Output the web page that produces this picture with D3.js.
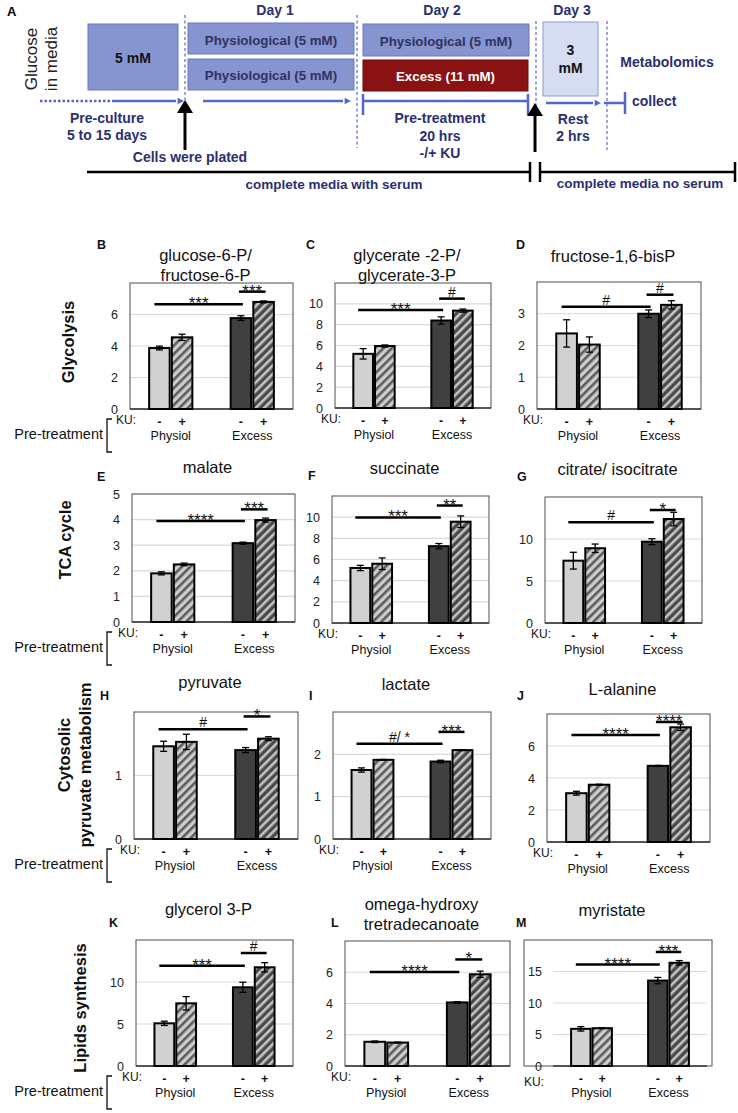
<!DOCTYPE html>
<html><head><meta charset="utf-8">
<script src="https://cdn.jsdelivr.net/npm/d3@7"></script>
<style>
body{margin:0;background:#fff}
svg{display:block}
text{font-family:"Liberation Sans",Arial,Helvetica,sans-serif}
</style>
</head><body>
<svg id="fig" width="738" height="1113"></svg>
<script>
// ---------------- DATA ----------------
const panelIds = ["B","C","D","E","F","G","H","I","J","K","L","M"];
const panelTitles = [["glucose-6-P/","fructose-6-P"],["glycerate -2-P/","glycerate-3-P"],["fructose-1,6-bisP"],
  ["malate"],["succinate"],["citrate/ isocitrate"],["pyruvate"],["lactate"],["L-alanine"],
  ["glycerol 3-P"],["omega-hydroxy","tretradecanoate"],["myristate"]];
const groups = ["Physiol","Excess"];
const kuLevels = ["-","+"];
const physiolMinus = [3.87,5.2,2.38,1.9,5.2,7.42,1.46,1.63,3.05,5.08,1.55,5.9];
const physiolPlus  = [4.55,5.95,2.03,2.25,5.6,8.9,1.53,1.87,3.58,7.46,1.5,6.0];
const excessMinus  = [5.77,8.4,3.0,3.08,7.26,9.68,1.4,1.83,4.76,9.37,4.07,13.56];
const excessPlus   = [6.8,9.35,3.28,3.98,9.57,12.38,1.58,2.1,7.17,11.75,5.87,16.38];
const errPhysiolMinus = [0.12,0.5,0.43,0.06,0.25,1.0,0.08,0.05,0.12,0.25,0.05,0.35];
const errPhysiolPlus  = [0.2,0.1,0.24,0.05,0.55,0.5,0.12,0.01,0.03,0.8,0.03,0.05];
const errExcessMinus  = [0.15,0.35,0.12,0.04,0.25,0.35,0.04,0.03,0.03,0.6,0.05,0.5];
const errExcessPlus   = [0.06,0.15,0.13,0.08,0.55,0.8,0.03,0.01,0.2,0.55,0.2,0.35];
const yMax = [8,12,4,5,12,15,2,3,8,15,8,20];
const yTicks = [[0,2,4,6],[0,2,4,6,8,10],[0,1,2,3],[0,1,2,3,4,5],[0,2,4,6,8,10],[0,5,10],
  [0,1],[0,1,2],[0,2,4,6],[0,5,10],[0,2,4,6],[0,5,10,15]];
const sigLongLabel = ["***","***","#","****","***","#","#","#/ *","****","***","****","****"];
const sigLongY = [6.65,9.4,3.22,3.95,9.97,12.0,1.73,2.25,6.68,11.94,6.02,16.1];
const sigShortLabel = ["***","#","#","***","**","*","*","***","****","#","*","***"];
const sigShortY = [7.45,10.5,3.6,4.4,11.1,13.45,1.93,2.53,7.5,13.45,6.82,18.1];
const rowLabels = [["Glycolysis"],["TCA cycle"],["Cytosolic","pyruvate metabolism"],["Lipids synthesis"]];

// ---------------- LAYOUT ----------------
const plotBox = [[130,293,283,409],[335,491,283,408],[537,701,282,409],
  [132,295,494,622],[332,489,496,623],[545,702,497,623],
  [134,298,712,839],[333,491,712,839],[547,710,714,842],
  [136,293,940,1066],[345,510,941,1066],[553,707,940,1066]];
const frameLeft = [null,null,null,null,null,null,null,null,null,null,null,524];
const frameRight = [null,null,null,null,null,null,null,null,null,null,null,712];
const titleY = [261,261,262,473,474,475,688,690,695,915,910,916];
const letterPos = [[97,249],[306,249],[516,249],[97,481],[308,480],[517,481],[100,700],[309,700],[517,700],[109,927],[331,927],[516,927]];

const NAVY = "#2b2f6e";
const svg = d3.select("#fig");
const defs = svg.append("defs");

function hatch(id, base, stripe){
  const p = defs.append("pattern").attr("id",id).attr("patternUnits","userSpaceOnUse")
    .attr("width",6).attr("height",6).attr("patternTransform","rotate(45)");
  p.append("rect").attr("width",6).attr("height",6).attr("fill",base);
  p.append("rect").attr("width",2.6).attr("height",6).attr("fill",stripe);
}
hatch("hatchLight","#cdcdcd","#5c5c5c");
hatch("hatchDark","#4a4a4a","#c4c4c4");
const barFills = [["#d1d1d1","url(#hatchLight)"],["#404040","url(#hatchDark)"]];

// ---------------- PANEL A ----------------
function arrowHead(g, x, y, color, size){
  g.append("path").attr("d",`M${x},${y} L${x-size*1.6},${y-size*0.8} L${x-size*1.6},${y+size*0.8} Z`).attr("fill",color);
}
const A = svg.append("g");
A.append("text").attr("x",7).attr("y",16).attr("font-size",13).attr("font-weight","bold").text("A");
[["Glucose",37],["in media",57]].forEach(([t,x])=>{
  A.append("text").attr("transform",`translate(${x},59) rotate(-90)`).attr("text-anchor","middle")
   .attr("font-size",17).attr("fill","#222").text(t);
});
[[185,15,100],[357,15,148],[536,21,106],[607,21,150]].forEach(([x,y1,y2])=>{
  A.append("line").attr("x1",x).attr("x2",x).attr("y1",y1).attr("y2",y2)
   .attr("stroke","#6675c8").attr("stroke-width",1.3).attr("stroke-dasharray","3,2.5");
});
const boxFill="#8694d0", boxStroke="#6a79c2";
A.append("rect").attr("x",88).attr("y",24).attr("width",90).attr("height",66).attr("fill",boxFill).attr("stroke",boxStroke);
A.append("text").attr("x",133).attr("y",63).attr("text-anchor","middle").attr("font-size",14).attr("font-weight","bold").attr("fill","#111").text("5 mM");
[["Day 1",275],["Day 2",442],["Day 3",572]].forEach(([t,x])=>{
  A.append("text").attr("x",x).attr("y",15).attr("text-anchor","middle").attr("font-size",14).attr("font-weight","bold").attr("fill",NAVY).text(t);
});
[[188,23,166,31,45],[188,59,166,31,80],[363,24,166,32,46]].forEach(([x,y,w,h,ty])=>{
  A.append("rect").attr("x",x).attr("y",y).attr("width",w).attr("height",h).attr("fill",boxFill).attr("stroke",boxStroke);
  A.append("text").attr("x",x+w/2).attr("y",ty).attr("text-anchor","middle").attr("font-size",13.3).attr("font-weight","bold").attr("fill","#30335e").text("Physiological (5 mM)");
});
A.append("rect").attr("x",363).attr("y",60).attr("width",165).attr("height",31).attr("fill","#8b1212").attr("stroke","#6a0d0d");
A.append("text").attr("x",445.5).attr("y",81).attr("text-anchor","middle").attr("font-size",13.3).attr("font-weight","bold").attr("fill","#fff").text("Excess (11 mM)");
A.append("rect").attr("x",543).attr("y",22).attr("width",55).attr("height",74).attr("fill","#d6dcf1").attr("stroke","#8d9bd4");
A.append("text").attr("x",570.5).attr("y",55).attr("text-anchor","middle").attr("font-size",14).attr("font-weight","bold").attr("fill","#111").text("3");
A.append("text").attr("x",570.5).attr("y",73).attr("text-anchor","middle").attr("font-size",14).attr("font-weight","bold").attr("fill","#111").text("mM");
A.append("text").attr("x",667).attr("y",67).attr("text-anchor","middle").attr("font-size",14).attr("font-weight","bold").attr("fill",NAVY).text("Metabolomics");
const BL = "#5567c6";
A.append("line").attr("x1",40).attr("x2",112).attr("y1",101).attr("y2",101).attr("stroke",BL).attr("stroke-width",2.5).attr("stroke-dasharray","2.5,2");
A.append("line").attr("x1",112).attr("x2",176).attr("y1",101).attr("y2",101).attr("stroke",BL).attr("stroke-width",2.5);
arrowHead(A,184,101,BL,4);
A.append("line").attr("x1",203).attr("x2",343).attr("y1",101).attr("y2",101).attr("stroke",BL).attr("stroke-width",2.5);
arrowHead(A,351,101,BL,4);
A.append("line").attr("x1",363).attr("x2",528).attr("y1",101).attr("y2",101).attr("stroke",BL).attr("stroke-width",2.5);
[363,528].forEach(x=>A.append("line").attr("x1",x).attr("x2",x).attr("y1",94).attr("y2",115).attr("stroke",BL).attr("stroke-width",2.5));
A.append("line").attr("x1",546).attr("x2",593).attr("y1",103).attr("y2",103).attr("stroke",BL).attr("stroke-width",2.5);
arrowHead(A,601,103,BL,4);
A.append("line").attr("x1",604).attr("x2",625).attr("y1",103).attr("y2",103).attr("stroke",BL).attr("stroke-width",2.5);
A.append("line").attr("x1",625).attr("x2",625).attr("y1",92).attr("y2",114).attr("stroke",BL).attr("stroke-width",2.5);
A.append("text").attr("x",632).attr("y",106).attr("font-size",14).attr("font-weight","bold").attr("fill",NAVY).text("collect");
[[185,100,150],[535,103,152]].forEach(([x,yt,yb])=>{
  A.append("line").attr("x1",x).attr("x2",x).attr("y1",yt+10).attr("y2",yb).attr("stroke","#000").attr("stroke-width",3);
  A.append("path").attr("d",`M${x},${yt} L${x-8},${yt+13} L${x+8},${yt+13} Z`).attr("fill","#000");
});
const txt = (t,x,y)=>A.append("text").attr("x",x).attr("y",y).attr("text-anchor","middle").attr("font-size",14).attr("font-weight","bold").attr("fill",NAVY).text(t);
txt("Pre-culture",107,123); txt("5 to 15 days",107,140);
txt("Cells were plated",190,162);
txt("Pre-treatment",440,123); txt("20 hrs",440,141); txt("-/+ KU",440,158);
txt("Rest",573,124); txt("2 hrs",573,141);
A.append("line").attr("x1",87).attr("x2",530).attr("y1",172).attr("y2",172).attr("stroke","#000").attr("stroke-width",2.5);
A.append("line").attr("x1",540).attr("x2",735).attr("y1",172).attr("y2",172).attr("stroke","#000").attr("stroke-width",2.5);
[530,540,735].forEach(x=>A.append("line").attr("x1",x).attr("x2",x).attr("y1",162).attr("y2",182).attr("stroke","#000").attr("stroke-width",2.5));
A.append("text").attr("x",334).attr("y",189).attr("text-anchor","middle").attr("font-size",13.5).attr("font-weight","bold").attr("fill",NAVY).text("complete media with serum");
A.append("text").attr("x",640).attr("y",188).attr("text-anchor","middle").attr("font-size",13.5).attr("font-weight","bold").attr("fill",NAVY).text("complete media no serum");

// ---------------- ROW LABELS ----------------
const rowPos = [[[74,342]],[[71,540]],[[70,755],[91,765]],[[86,1008]]];
rowLabels.forEach((lines,r)=>{
  lines.forEach((t,k)=>{
    const [x,y] = rowPos[r][k];
    svg.append("text").attr("transform",`translate(${x},${y}) rotate(-90)`).attr("text-anchor","middle")
      .attr("font-size",16.5).attr("font-weight","bold").attr("fill","#111").text(t);
  });
});

// ---------------- PANELS ----------------
panelIds.forEach((id,i)=>{
  const [l,r,t,b] = plotBox[i];
  const g = svg.append("g");
  const y = d3.scaleLinear().domain([0,yMax[i]]).range([b,t]);
  const x0 = d3.scaleBand().domain(groups).range([l,r]);
  const cw = x0.bandwidth(), bw = cw*0.24, gap = cw*0.05;
  const x1 = d3.scaleBand().domain(kuLevels).range([-(bw+gap/2), bw+gap/2]).paddingInner(gap/(2*bw+gap));
  const barX = (gi,k)=> x0(groups[gi]) + cw/2 + x1(kuLevels[k]);
  const barC = (gi,k)=> barX(gi,k) + x1.bandwidth()/2;
  const hasFrame = frameLeft[i]!==null;
  const fl = hasFrame ? frameLeft[i] : l;
  const fr = hasFrame ? frameRight[i] : r;

  g.selectAll(".grid").data(yTicks[i].filter(v=>v>0)).join("line")
    .attr("x1",l).attr("x2",r).attr("y1",d=>y(d)).attr("y2",d=>y(d))
    .attr("stroke","#d9d9d9").attr("stroke-width",1.2);
  g.append("rect").attr("x",fl).attr("y",t).attr("width",fr-fl).attr("height",b-t)
    .attr("fill","none").attr("stroke","#5e5e5e").attr("stroke-width",1.1);
  g.append("line").attr("x1",l).attr("x2",r).attr("y1",b).attr("y2",b).attr("stroke","#3a3a3a").attr("stroke-width",1.3);
  const axG = g.append("g").attr("transform",`translate(${hasFrame ? fl+30 : l},0)`)
    .call(d3.axisLeft(y).tickValues(yTicks[i]).tickSize(0).tickPadding(12).tickFormat(d3.format("d")));
  axG.select(".domain").remove();
  axG.selectAll("text").attr("font-size",12.5).attr("fill","#222").attr("font-family",'"Liberation Sans",Arial,sans-serif');

  const vals = [[physiolMinus[i],physiolPlus[i]],[excessMinus[i],excessPlus[i]]];
  const errs = [[errPhysiolMinus[i],errPhysiolPlus[i]],[errExcessMinus[i],errExcessPlus[i]]];
  const rows = [];
  vals.forEach((pair,gi)=>pair.forEach((v,k)=>rows.push({gi,k,v,e:errs[gi][k]})));
  g.selectAll(".bar").data(rows).join("rect")
    .attr("x",d=>barX(d.gi,d.k)).attr("width",x1.bandwidth())
    .attr("y",d=>y(d.v)).attr("height",d=>b-y(d.v))
    .attr("fill",d=>barFills[d.gi][d.k]).attr("stroke","#000").attr("stroke-width",2);
  rows.forEach(d=>{
    const cx = barC(d.gi,d.k), y1 = y(d.v+d.e), y2 = y(d.v-d.e);
    g.append("line").attr("x1",cx).attr("x2",cx).attr("y1",y1).attr("y2",y2).attr("stroke","#000").attr("stroke-width",1.3);
    [y1,y2].forEach(yy=>g.append("line").attr("x1",cx-3.5).attr("x2",cx+3.5).attr("y1",yy).attr("y2",yy).attr("stroke","#000").attr("stroke-width",1.3));
  });
  const sig = [
    {x1:barC(0,0)-5, x2:barC(1,0)+2, v:sigLongY[i], lab:sigLongLabel[i]},
    {x1:barC(1,0)-2, x2:barC(1,1)+2, v:sigShortY[i], lab:sigShortLabel[i]}
  ];
  sig.forEach(s=>{
    const yy = y(s.v);
    g.append("line").attr("x1",s.x1).attr("x2",s.x2).attr("y1",yy).attr("y2",yy).attr("stroke","#000").attr("stroke-width",2.5);
    const starOnly = /^\*+$/.test(s.lab);
    g.append("text").attr("x",(s.x1+s.x2)/2).attr("y",yy + (starOnly? 5 : -2)).attr("text-anchor","middle")
      .attr("font-size",starOnly? 17 : 14).attr("fill","#111").text(s.lab);
  });
  const kuY = b + 17, grpY = b + 31;
  g.append("text").attr("x",hasFrame ? fl+20 : l+6).attr("y",hasFrame ? kuY+3 : kuY-2).attr("text-anchor","end").attr("font-size",12).attr("fill","#111").text("KU:");
  rows.forEach(d=>{
    g.append("text").attr("x",barC(d.gi,d.k)).attr("y",kuY).attr("text-anchor","middle").attr("font-size",12.5)
      .attr("font-weight","bold").attr("fill","#111").text(kuLevels[d.k]);
  });
  groups.forEach(gr=>{
    g.append("text").attr("x",x0(gr)+cw/2).attr("y",grpY).attr("text-anchor","middle").attr("font-size",12.5).attr("fill","#111").text(gr);
  });
  if (i%3===0){
    g.append("text").attr("x",103).attr("y",b+30).attr("text-anchor","end").attr("font-size",14.5).attr("fill","#111").text("Pre-treatment");
    g.append("path").attr("d",`M112,${b+10} L107,${b+10} L107,${b+43} L112,${b+43}`).attr("fill","none").attr("stroke","#111").attr("stroke-width",1.3);
  }
  const tc = (fl+fr)/2 - 6;
  panelTitles[i].forEach((tt,k)=>{
    g.append("text").attr("x",tc).attr("y",titleY[i]+k*20).attr("text-anchor","middle").attr("font-size",16.5).attr("fill","#111").text(tt);
  });
  g.append("text").attr("x",letterPos[i][0]).attr("y",letterPos[i][1]).attr("font-size",12.5).attr("font-weight","bold").attr("fill","#111").text(id);
});
</script>
</body></html>
